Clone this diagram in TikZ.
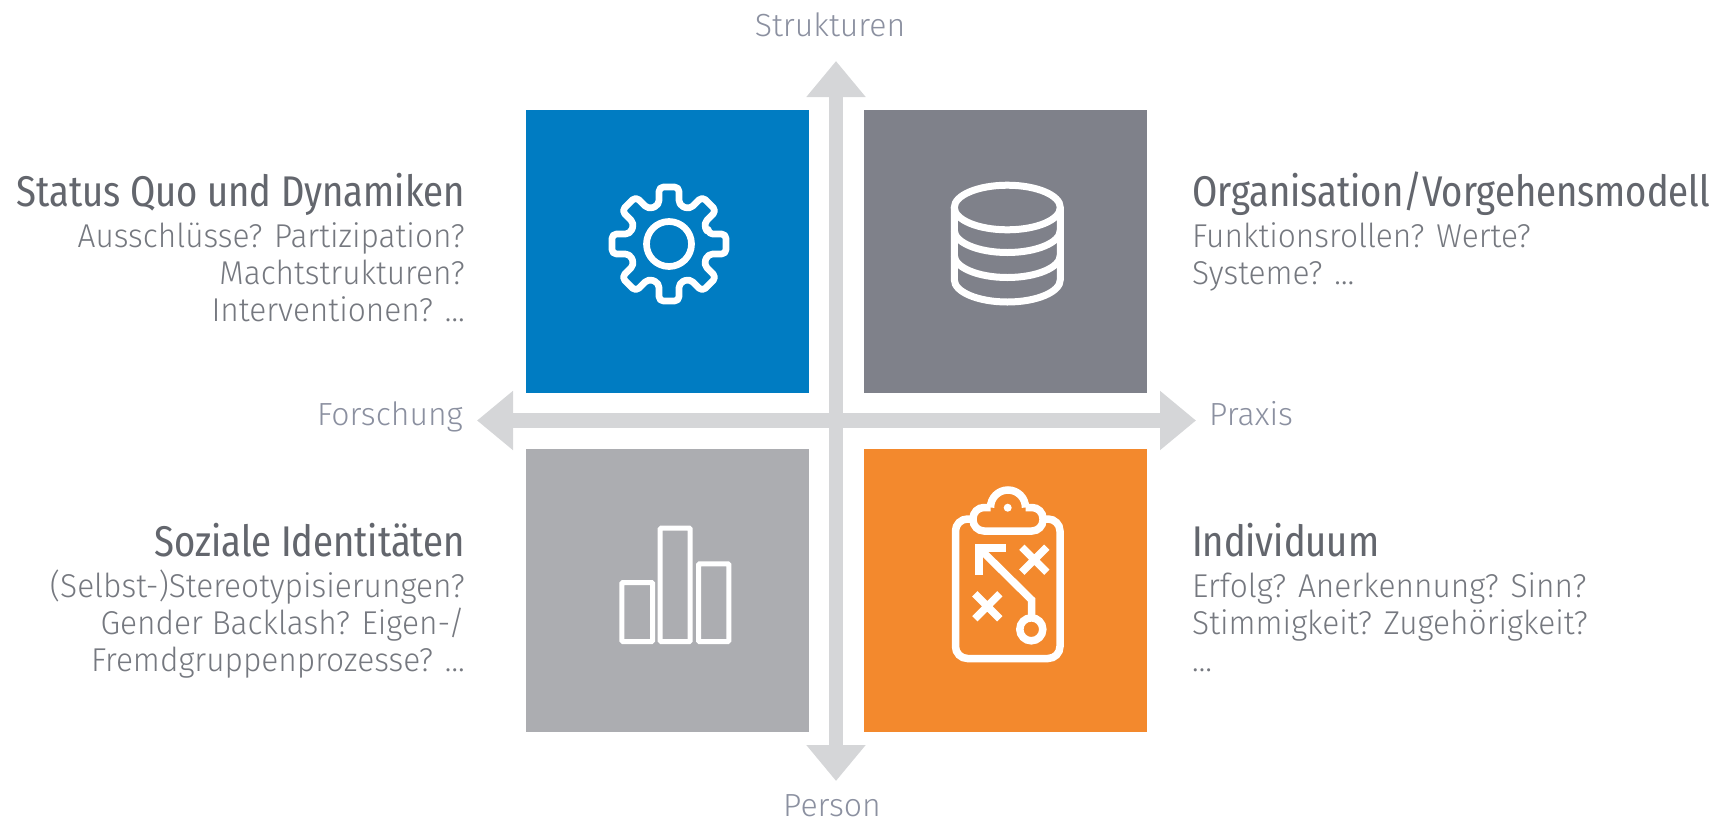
\documentclass[tikz,border=0pt]{standalone}
\usepackage{fontspec}
\usetikzlibrary{arrows.meta}
\setmainfont{Fira Sans Light}
\newfontfamily\headf[FakeStretch=0.94]{Fira Sans Condensed}
\newfontfamily\bodyf[FakeStretch=0.96]{Fira Sans Light}
\definecolor{arrowgrey}{HTML}{D5D6D8}
\definecolor{cblue}{HTML}{007CC2}
\definecolor{cdark}{HTML}{7F818A}
\definecolor{clight}{HTML}{ACADB1}
\definecolor{corange}{HTML}{F3892D}
\definecolor{headcol}{HTML}{63666D}
\definecolor{bodycol}{HTML}{75787F}
\definecolor{axiscol}{HTML}{8B90A0}
\tikzset{x=1pt,y=-1pt,
 quad/.style={fill=#1,draw=none,minimum width=282.5pt,minimum height=283pt,inner sep=0pt,outer sep=0pt},
 axisarrow/.style={draw=arrowgrey,line width=14.4pt,{Triangle[length=36pt,width=57pt]}-{Triangle[length=36pt,width=57pt]}},
 icon/.style={draw=white,line width=#1,fill=none},
 axislabel/.style={font=\fontsize{32}{32}\selectfont,text=axiscol,inner sep=0pt},
 head/.style={font=\headf\fontsize{43}{43}\selectfont,text=headcol,inner sep=0pt},
 body/.style={font=\bodyf\fontsize{33}{37}\selectfont,text=bodycol,inner sep=0pt},
}
\begin{document}
\begin{tikzpicture}
\useasboundingbox (0,0) rectangle (1720,820);
% axes
\coordinate (top) at (836,61);
\coordinate (bottom) at (836,781);
\coordinate (left) at (477,420.5);
\coordinate (right) at (1196,420.5);
\draw[axisarrow] (top) -- (bottom);
\draw[axisarrow] (left) -- (right);
% squares
\node[quad=cblue,anchor=north west] (qa) at (526,110) {};
\node[quad=cdark,anchor=north west] (qb) at (864,110) {};
\node[quad=clight,anchor=north west] (qc) at (526,449) {};
\node[quad=corange,anchor=north west] (qd) at (864,449) {};
% gear
\begin{scope}[shift={(669,244)}]
\draw[icon=6.7pt,rounded corners=4.5pt,line join=round] (-14.4:40.3)
  \foreach \a in {0,45,...,315} { -- (\a-14.4:40.3) -- (\a-9.95:57.9) -- (\a+9.95:57.9) -- (\a+14.4:40.3) } -- cycle;
\draw[icon=6.7pt] (0,0) circle[radius=22.5];
\end{scope}
% database
\begin{scope}[shift={(1007.3,0)}]
\draw[icon=7pt] (0,207.5) circle[x radius=53,y radius=22.3];
\draw[icon=7pt] (-53,207.5) -- (-53,279.7) .. controls (-53,292) and (-29.3,302) .. (0,302) .. controls (29.3,302) and (53,292) .. (53,279.7) -- (53,207.5);
\draw[icon=7pt] (-53,230.2) .. controls (-53,242.5) and (-29.3,252.5) .. (0,252.5) .. controls (29.3,252.5) and (53,242.5) .. (53,230.2);
\draw[icon=7pt] (-53,255.2) .. controls (-53,267.5) and (-29.3,277.5) .. (0,277.5) .. controls (29.3,277.5) and (53,267.5) .. (53,255.2);
\end{scope}
% bars
\draw[icon=5pt,rounded corners=1pt] (621.8,582.5) rectangle (652.5,641.5);
\draw[icon=5pt,rounded corners=1pt] (660.2,528.2) rectangle (690.2,641.5);
\draw[icon=5pt,rounded corners=1pt] (698.5,563.8) rectangle (728.8,641.5);
% clipboard
\draw[icon=7.5pt,rounded corners=12pt] (971,519) -- (955.5,519) -- (955.5,658.5) -- (1060,658.5) -- (1060,519) -- (1045,519);
\draw[icon=7.5pt,rounded corners=11pt] (990.5,507.5) -- (973,507.5) -- (973,531) -- (1043,531) -- (1043,507.5) -- (1025.5,507.5);
\draw[icon=7.5pt] (990.5,507.5) .. controls (990.5,497.8) and (998.3,490) .. (1008,490) .. controls (1017.7,490) and (1025.5,497.8) .. (1025.5,507.5);
\fill[white] (1007.7,507.7) circle[radius=4];
\draw[icon=7.5pt,line join=miter] (979,575) -- (979,548) -- (1006,548);
\draw[icon=7.5pt,line join=miter] (979,548) -- (1031.7,600) -- (1031.7,618);
\draw[icon=7.5pt] (1031.3,629.3) circle[radius=11.5];
\draw[icon=7.5pt] (1021.8,547.2) -- (1046.8,572.2) (1046.8,547.2) -- (1021.8,572.2);
\draw[icon=7.5pt] (974.8,593.8) -- (999.8,618.8) (999.8,593.8) -- (974.8,618.8);
% axis labels
\node[axislabel,anchor=base] (lstruk) at (830,36) {Strukturen};
\node[axislabel,anchor=base] (lpers) at (832,816) {Person};
\node[axislabel,anchor=base east] (lfor) at (463,425) {Forschung};
\node[axislabel,anchor=base west] (lpra) at (1209,425) {Praxis};
% left texts
\node[head,anchor=base east] (ha) at (465,206.7) {Status Quo und Dynamiken};
\node[body,anchor=base east,align=right] (ba) at (465,321) {Ausschlüsse? Partizipation?\\Machtstrukturen?\\Interventionen? …};
\node[head,anchor=base east] (hc) at (465,556) {Soziale Identitäten};
\node[body,anchor=base east,align=right] (bc) at (465,671) {(Selbst-)Stereotypisierungen?\\Gender Backlash? Eigen-/\\Fremdgruppenprozesse? …};
% right texts
\node[head,anchor=base west] (hb) at (1192,206.7) {Organisation/Vorgehensmodell};
\node[body,anchor=base west,align=left] (bb) at (1192,284) {Funktionsrollen? Werte?\\Systeme? …};
\node[head,anchor=base west] (hd) at (1192,556) {Individuum};
\node[body,anchor=base west,align=left] (bd) at (1192,671) {Erfolg? Anerkennung? Sinn?\\Stimmigkeit? Zugehörigkeit?\\…};
\end{tikzpicture}
\end{document}
